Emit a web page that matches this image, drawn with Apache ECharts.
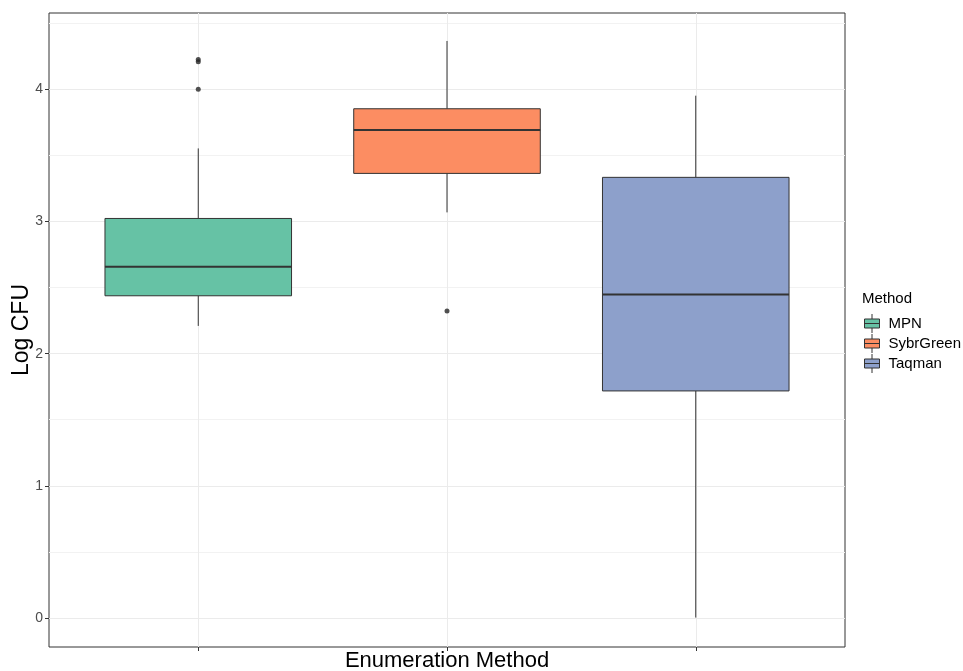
<!DOCTYPE html>
<html>
<head>
<meta charset="utf-8">
<script src="https://cdn.jsdelivr.net/npm/echarts@6/dist/echarts.min.js"></script>
<style>
  html, body { margin: 0; padding: 0; background: #fff; }
  #chart { width: 963px; height: 671px; }
</style>
</head>
<body>
<div id="chart"></div>
<script>
const methods = ['MPN', 'SybrGreen', 'Taqman'];
const colors = ['#66C2A5', '#FC8D62', '#8DA0CB'];
// [lower whisker, Q1, median, Q3, upper whisker]
const mpnBox = [2.21, 2.438, 2.657, 3.023, 3.553];
const sybrBox = [3.069, 3.364, 3.692, 3.853, 4.366];
const taqmanBox = [0.003, 1.718, 2.448, 3.334, 3.952];
const mpnOutliers = [4.0, 4.209, 4.225];
const sybrOutliers = [2.322];
const taqmanOutliers = [];
const yTicks = [0, 1, 2, 3, 4];
const yMinorTicks = [0.5, 1.5, 2.5, 3.5, 4.5];
const xTicks = [1, 2, 3];

const boxes = [mpnBox, sybrBox, taqmanBox];
const outliers = [mpnOutliers, sybrOutliers, taqmanOutliers];

const chart = echarts.init(document.getElementById('chart'));

function drawBox(params, api) {
  const x = api.value(0);
  const lo = api.coord([x, api.value(1)]);
  const q1 = api.coord([x, api.value(2)]);
  const med = api.coord([x, api.value(3)]);
  const q3 = api.coord([x, api.value(4)]);
  const hi = api.coord([x, api.value(5)]);
  const half = api.size([0.75, 0])[0] / 2;
  const line = { stroke: '#333333', lineWidth: 1 };
  return {
    type: 'group',
    children: [
      { type: 'line', shape: { x1: hi[0], y1: hi[1], x2: q3[0], y2: q3[1] }, style: line },
      { type: 'line', shape: { x1: q1[0], y1: q1[1], x2: lo[0], y2: lo[1] }, style: line },
      {
        type: 'rect',
        shape: { x: q3[0] - half, y: q3[1], width: half * 2, height: q1[1] - q3[1] },
        style: { fill: api.visual('color'), stroke: '#333333', lineWidth: 1 }
      },
      {
        type: 'line',
        shape: { x1: med[0] - half, y1: med[1], x2: med[0] + half, y2: med[1] },
        style: { stroke: '#333333', lineWidth: 2 }
      }
    ]
  };
}

const series = methods.map((name, i) => ({
  name: name,
  type: 'custom',
  renderItem: drawBox,
  itemStyle: { color: colors[i] },
  encode: { x: 0, y: [1, 2, 3, 4, 5] },
  data: [[i + 1].concat(boxes[i])]
}));

const outlierData = [];
outliers.forEach((vals, i) => vals.forEach(v => outlierData.push([i + 1, v])));
series.push({
  name: 'outliers',
  type: 'scatter',
  symbol: 'circle',
  symbolSize: 5,
  itemStyle: { color: '#262626' },
  data: outlierData
});

const yMin = -0.2195, yMax = 4.5776;

const option = {
  animation: false,
  backgroundColor: '#ffffff',
  textStyle: { fontFamily: 'Liberation Sans, Arial, sans-serif' },
  grid: {
    left: 49, right: 118, top: 13, bottom: 24,
    outerBoundsMode: 'none',
    containLabel: false,
    show: true, borderColor: '#333333', borderWidth: 1, backgroundColor: 'transparent'
  },
  title: {
    text: 'Method',
    left: 862, top: 291, padding: 0,
    textStyle: { fontSize: 15, fontWeight: 'normal', color: '#000' }
  },
  legend: {
    data: methods.map((m, i) => ({
      name: m,
      itemStyle: { color: colors[i], borderColor: '#333333', borderWidth: 1 }
    })),
    orient: 'vertical',
    left: 864, top: 313.5,
    padding: 0,
    itemWidth: 15, itemHeight: 19, itemGap: 0,
    icon: 'path://M0,5L15,5L15,14L0,14ZM0,9.5L15,9.5M7.5,0L7.5,5M7.5,14L7.5,19',
    textStyle: { fontSize: 15, color: '#000', padding: [0, 0, 0, 4] }
  },
  xAxis: {
    type: 'value',
    min: 0.4, max: 3.6,
    name: 'Enumeration Method',
    nameLocation: 'middle',
    nameGap: 3,
    nameMoveOverlap: false,
    nameTextStyle: { fontSize: 22, color: '#000' },
    axisLine: { show: false, onZero: false },
    axisTick: { show: true, customValues: xTicks, length: 4, lineStyle: { color: '#333333' } },
    axisLabel: { show: false },
    splitLine: { show: true, customValues: xTicks, lineStyle: { color: '#ebebeb', width: 1 } }
  },
  yAxis: [{
    type: 'value',
    min: yMin, max: yMax,
    name: 'Log CFU',
    nameLocation: 'middle',
    nameGap: 16,
    nameMoveOverlap: false,
    nameTextStyle: { fontSize: 23, color: '#000' },
    axisLine: { show: false, onZero: false },
    axisTick: { show: true, customValues: yTicks, length: 4, lineStyle: { color: '#333333' } },
    axisLabel: { customValues: yTicks, fontSize: 14, color: '#4d4d4d', margin: 6 },
    splitLine: { show: true, customValues: yTicks, lineStyle: { color: '#ebebeb', width: 1 } }
  }, {
    type: 'value',
    min: yMin, max: yMax,
    position: 'left',
    axisLine: { show: false, onZero: false },
    axisTick: { show: false, customValues: yMinorTicks },
    axisLabel: { show: false, customValues: yMinorTicks },
    splitLine: { show: true, customValues: yMinorTicks, lineStyle: { color: '#f2f2f2', width: 1 } }
  }],
  series: series
};

chart.setOption(option);
window.addEventListener('resize', () => chart.resize());
</script>
</body>
</html>
